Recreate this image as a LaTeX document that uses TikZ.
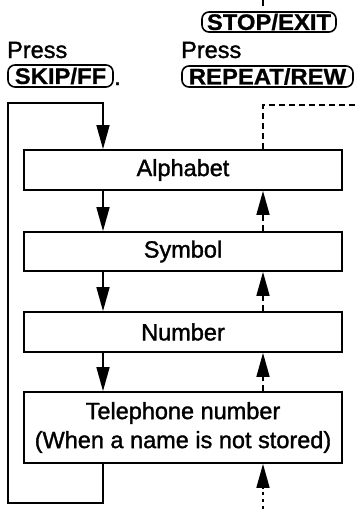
\documentclass[tikz,border=0pt]{standalone}
\usepackage{fontspec}
\setmainfont{Liberation Sans}[FakeStretch=1.0,FakeBold=1.4,BoldFeatures={FakeStretch=1.06,FakeBold=0.8}]
\usetikzlibrary{arrows.meta}
\begin{document}
\begin{tikzpicture}[x=1pt,y=-1pt,
  stepbox/.style={draw,line width=1.8pt,minimum width=318pt,inner sep=0pt,
    font=\fontsize{23.5}{29}\selectfont,align=center},
  keybox/.style={draw,line width=1.6pt,rounded corners=7pt,inner sep=0pt,
    font=\fontsize{22.5}{24}\selectfont\bfseries},
  lbl/.style={inner sep=0pt,font=\fontsize{23.5}{24}\selectfont},
  conn/.style={line width=1.6pt},
  tip/.style={-{Triangle[length=24pt,width=13pt]}},
  dashline/.style={line width=1.6pt,dash pattern=on 6pt off 4pt},
  dotline/.style={line width=1.6pt,dash pattern=on 3pt off 4pt}]
\useasboundingbox (0,0) rectangle (356,509);
% boxes
\node[stepbox,minimum height=40pt] (alpha) at (183,170) {Alphabet};
\node[stepbox,minimum height=39pt] (symbol) at (183,251.5) {Symbol};
\node[stepbox,minimum height=40pt] (number) at (183,332) {Number};
\node[stepbox,minimum height=71pt] (tel) at (183,427.5) {Telephone number\\(When a name is not stored)};
% labels
\node[lbl,anchor=base west] (pressL) at (7,58) {Press};
\node[keybox,minimum width=105pt,minimum height=22pt] (skip) at (60.5,76) {SKIP/FF};
\node[lbl,anchor=base west] (dot) at (114,85) {.};
\node[lbl,anchor=base west] (pressR) at (181,58) {Press};
\node[keybox,minimum width=171pt,minimum height=21pt] (repeat) at (267.5,76.5) {REPEAT/REW};
\node[keybox,minimum width=134pt,minimum height=20pt] (stop) at (269,22) {STOP/EXIT};
% reference coordinates
\coordinate (dnx) at (103,0);
\coordinate (upx) at (263,0);
\coordinate (loopB) at (8,503);
\coordinate (loopT) at (8,103);
\coordinate (rtop) at (356,105);
\coordinate (botin) at (263,509);
\coordinate (tickA) at (263,0);
\coordinate (tickB) at (263,6);
% SKIP/FF loop
\draw[conn,tip] (tel.south -| dnx) |- (loopB) -- (loopT) -| (alpha.north -| dnx);
\draw[conn,tip] (alpha.south -| dnx) -- (symbol.north -| dnx);
\draw[conn,tip] (symbol.south -| dnx) -- (number.north -| dnx);
\draw[conn,tip] (number.south -| dnx) -- (tel.north -| dnx);
% REPEAT/REW path
\draw[dashline,tip] (symbol.north -| upx) -- (alpha.south -| upx);
\draw[dashline,tip] (number.north -| upx) -- (symbol.south -| upx);
\draw[dashline,tip] (tel.north -| upx) -- (number.south -| upx);
\draw[dotline,tip] (botin) -- (tel.south -| upx);
\draw[dashline] (alpha.north -| upx) |- (rtop);
\draw[line width=1.2pt] (tickA) -- (tickB);
\end{tikzpicture}
\end{document}
